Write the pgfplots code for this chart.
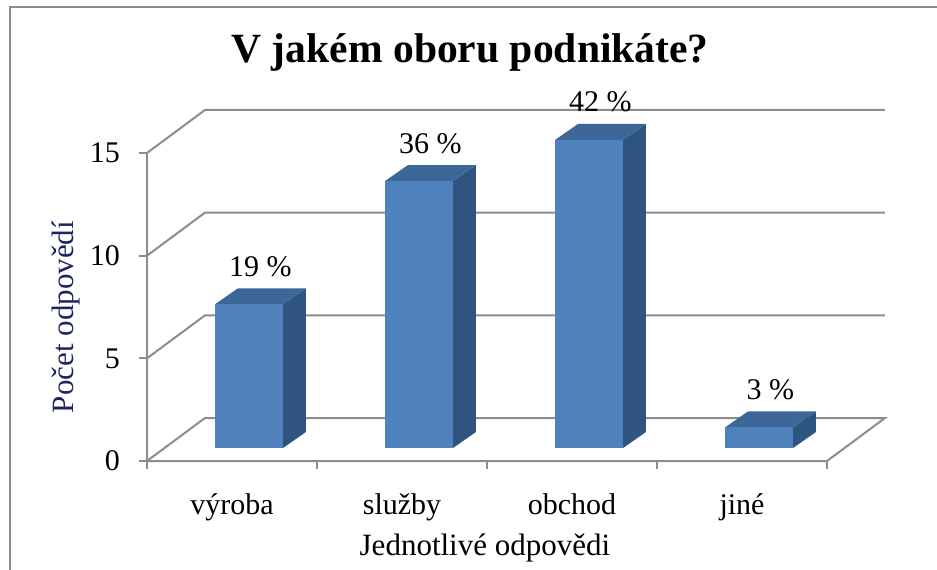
\documentclass[border=0pt]{standalone}
\usepackage{fontspec}
\setmainfont{Liberation Serif}
\usepackage{pgfplots}
\usepackage{pgfplotstable}
\pgfplotsset{compat=1.18}

\definecolor{barfront}{RGB}{79,129,189}
\definecolor{bartop}{RGB}{60,103,152}
\definecolor{barside}{RGB}{47,84,128}
\definecolor{gridcol}{RGB}{140,140,140}
\definecolor{ylabcol}{RGB}{31,36,96}

% value = number of answers, pct = label shown above the bar
\pgfplotstableread{
cat val pct
0 7 19
1 13 36
2 15 42
3 1 3
}\datatable

\begin{document}
\begin{tikzpicture}
% 1 px of the reference = 0.5pt, axis origin at px (147,461)
\useasboundingbox (-73.5pt,-54pt) rectangle (395pt,230.5pt);
\draw[gridcol, line width=1.2pt] (-68.5pt,-60pt) -- (-68.5pt,227pt) -- (400pt,227pt);
\begin{axis}[
  at={(0pt,0pt)}, anchor=south west,
  x=85pt, y=10.267pt,
  xmin=0, xmax=4.35, ymin=0, ymax=17.1,
  clip=false,
  axis line style={draw=none},
  tick align=outside,
  major tick length=4pt,
  tick style={gridcol, line width=1pt},
  xtick pos=left, ytick pos=left,
  xtick={0,1,2,3,4},
  xticklabels={výroba,služby,obchod,jiné},
  x tick label as interval,
  ytick={0,5,10,15},
  /pgf/number format/assume math mode=true,
  tick label style={font=\fontsize{15}{18}\selectfont},
  xticklabel style={yshift=-9pt},
  yticklabel style={xshift=-6pt},
  title={V jakém oboru podnikáte?},
  title style={font=\bfseries\fontsize{20.8}{24}\selectfont, at={(0.437,1.102)}, anchor=base},
  xlabel={Jednotlivé odpovědi},
  xlabel style={font=\fontsize{15.5}{18}\selectfont, at={(0.457,-0.268)}, anchor=base},
  ylabel={Počet odpovědí},
  ylabel style={font=\fontsize{15.5}{18}\selectfont, text=ylabcol, at={(-0.109,0.41)}, anchor=center},
]
% floor
\addplot[gridcol, line width=1pt] coordinates {(0,0) (4,0) (4.341,2.094) (0.341,2.094) (0,0)};
% back gridlines and left axis
\addplot[gridcol, line width=1pt] coordinates {(0,5) (0.341,7.094) (4.341,7.094)};
\addplot[gridcol, line width=1pt] coordinates {(0,10) (0.341,12.094) (4.341,12.094)};
\addplot[gridcol, line width=1pt] coordinates {(0,15) (0.341,17.094) (4.341,17.094)};
\addplot[gridcol, line width=1pt] coordinates {(0,0) (0,15)};
% bars with depth
\pgfplotsforeachungrouped \i in {0,1,2,3}{
  \pgfplotstablegetelem{\i}{val}\of\datatable
  \let\barval\pgfplotsretval
  \pgfplotstablegetelem{\i}{pct}\of\datatable
  \let\barpct\pgfplotsretval
  \pgfmathsetmacro\xa{\i+0.4}
  \pgfmathsetmacro\xb{\i+0.8}
  \pgfmathsetmacro\xc{\i+0.935}
  \pgfmathsetmacro\xd{\i+0.535}
  \pgfmathsetmacro\xl{\i+0.6675}
  \pgfmathsetmacro\ya{0.633}
  \pgfmathsetmacro\yb{0.633+\barval}
  \pgfmathsetmacro\yc{0.633+\barval+0.78}
  \pgfmathsetmacro\yd{0.633+0.78}
  \edef\temp{%
    \noexpand\addplot[fill=barside, draw=none] coordinates {(\xb,\ya) (\xc,\yd) (\xc,\yc) (\xb,\yb)};
    \noexpand\addplot[fill=bartop, draw=none] coordinates {(\xa,\yb) (\xb,\yb) (\xc,\yc) (\xd,\yc)};
    \noexpand\addplot[fill=barfront, draw=none] coordinates {(\xa,\ya) (\xb,\ya) (\xb,\yb) (\xa,\yb)};
    \noexpand\node[anchor=base, font=\noexpand\fontsize{15}{18}\noexpand\selectfont] at (axis cs:\xl,\yc) [yshift=6pt] {\barpct{} \noexpand\%};
  }%
  \temp
}
\end{axis}
\end{tikzpicture}
\end{document}
